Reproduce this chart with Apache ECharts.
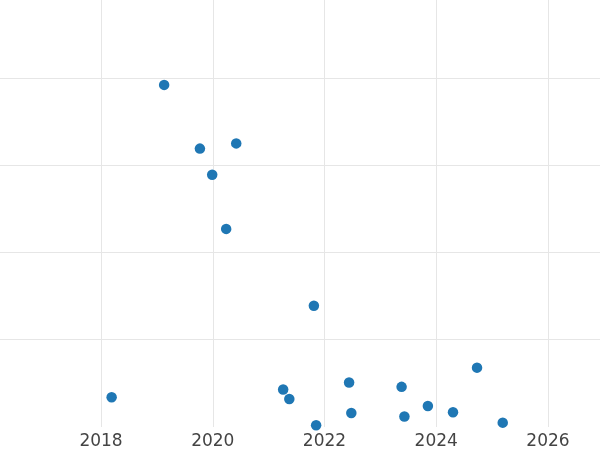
<!DOCTYPE html>
<html>
<head>
<meta charset="utf-8">
<script src="https://cdn.jsdelivr.net/npm/echarts@6/dist/echarts.min.js"></script>
<style>html,body{margin:0;padding:0;background:#fff}#c{width:600px;height:450px}</style>
</head>
<body>
<div id="c"></div>
<script>
const years = [2019.13, 2019.77, 2020.42, 2019.99, 2020.24, 2021.81, 2018.19, 2021.26, 2021.37, 2021.85, 2022.44, 2022.48, 2023.38, 2023.43, 2023.85, 2024.30, 2024.73, 2025.19];
const values = [3.92, 3.19, 3.25, 2.89, 2.27, 1.39, 0.34, 0.43, 0.32, 0.02, 0.51, 0.16, 0.46, 0.12, 0.24, 0.17, 0.68, 0.05];
const xRange = [2016.192, 2026.931];
const yRange = [0, 4.893];

const data = years.map((x, i) => [x, values[i]]);
const chart = echarts.init(document.getElementById('c'), null, {renderer: 'canvas'});
chart.setOption({
  animation: false,
  backgroundColor: '#ffffff',
  grid: {left: 0, top: 0, width: 600, height: 427.3, containLabel: false},
  xAxis: {
    type: 'value',
    min: xRange[0], max: xRange[1], splitNumber: 5,
    axisLine: {show: false}, axisTick: {show: false},
    axisLabel: {show: true, showMinLabel: false, showMaxLabel: false, margin: 6,
      fontFamily: 'DejaVu Sans', fontSize: 17, color: '#444',
      formatter: v => String(v)},
    splitLine: {show: true, showMinLine: false, showMaxLine: false, lineStyle: {color: '#e6e6e6', width: 1}}
  },
  yAxis: {
    type: 'value', min: yRange[0], max: yRange[1], interval: 1,
    axisLine: {show: false}, axisTick: {show: false}, axisLabel: {show: false},
    splitLine: {show: true, showMinLine: false, showMaxLine: false, lineStyle: {color: '#e6e6e6', width: 1}}
  },
  series: [{
    type: 'scatter',
    data: data,
    symbolSize: 10.5,
    itemStyle: {color: '#1f77b4', opacity: 1},
    clip: false
  }]
});
</script>
</body>
</html>
